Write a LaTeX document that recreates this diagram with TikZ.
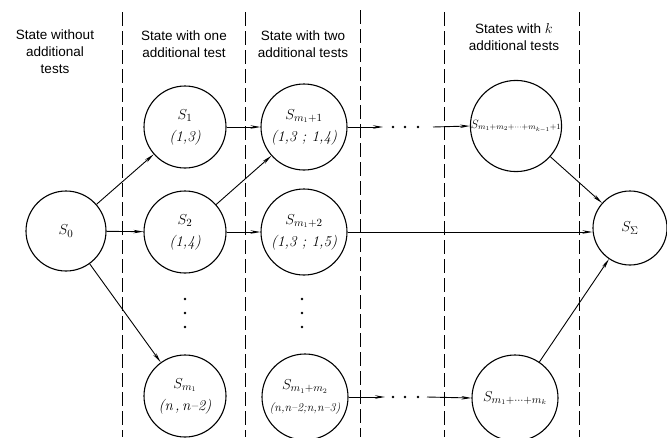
\documentclass[tikz,border=0pt]{standalone}
\usepackage{fontspec}
\newfontfamily\hdr{Liberation Sans}
\usetikzlibrary{arrows.meta}
\begin{document}
\begin{tikzpicture}[x=1pt,y=-1pt,
 st/.style={circle,draw,line width=1.1pt,inner sep=0pt,align=center,font=\fontsize{15}{22}\selectfont},
 arr/.style={line width=0.9pt,-{Stealth[length=10pt,width=3.5pt]}},
 sep/.style={line width=1pt,dash pattern=on 14pt off 5pt},
 hd/.style={align=center,font=\hdr\fontsize{13.5}{17}\selectfont},
 dotm/.style={circle,fill,inner sep=0pt,minimum size=2.8pt}]
\useasboundingbox (0,0) rectangle (667,437);
% column separators
\draw[sep] (122,12) -- (122,437);
\draw[sep] (245,12) -- (245,437);
\draw[sep] (360,10) -- (360,437);
\draw[sep] (444,12) -- (444,437);
\draw[sep] (579,12) -- (579,437);
% headers
\node[hd] (h0) at (55,52) {State without\\additional\\tests};
\node[hd] (h1) at (184,44) {State with one\\additional test};
\node[hd] (h2) at (303,44) {State with two\\additional tests};
\node[hd] (h3) at (514,37) {States with $k$\\additional tests};
% states
\node[st,minimum size=80pt] (a0) at (66,231) {$S_0$};
\node[st,minimum size=82pt] (b1) at (185,127) {$S_1$\\\textit{(1,3)}};
\node[st,minimum size=82pt] (b2) at (185,232) {$S_2$\\\textit{(1,4)}};
\node[st,minimum size=82pt] (b3) at (185,396) {$S_{m_1}$\\\textit{(n\,,\,n--2)}};
\node[st,minimum size=86pt] (c1) at (304,127) {$S_{m_1+1}$\\\textit{(1,3 ; 1,4)}};
\node[st,minimum size=86pt] (c2) at (304,232) {$S_{m_1+2}$\\\textit{(1,3 ; 1,5)}};
\node[st,minimum size=86pt] (c3) at (305,397) {$S_{m_1+m_2}$\\{\fontsize{12}{14}\selectfont\textit{(n,n--2;n,n--3)}}};
\node[st,minimum size=86pt,font=\fontsize{12}{15}\selectfont] (d1) at (516,126) {$S_{m_1+m_2+\cdots+m_{k-1}+1}$};
\node[st,minimum size=86pt] (d3) at (515,398) {$S_{m_1+\cdots+m_k}$};
\node[st,minimum size=74pt] (e) at (630,228) {$S_\Sigma$};
% dots
\foreach \yy in {299,313,327} {
  \node[dotm] at (185,\yy) {};
  \node[dotm] at (302,\yy) {};
}
\foreach \xx in {393,405,418} {
  \node[dotm] at (\xx,127) {};
  \node[dotm] at (\xx,397) {};
}
\coordinate (p1) at (383,127);
\coordinate (q1) at (433,127);
\coordinate (p3) at (385,397);
\coordinate (q3) at (427,397);
% connectors
\draw[arr] (a0) -- (b1);
\draw[arr] (a0) -- (b2);
\draw[arr] (a0) -- (b3);
\draw[arr] (b1) -- (c1);
\draw[arr] (b2) -- (c1);
\draw[arr] (b2) -- (c2);
\draw[arr] (c1.east) -- (p1);
\draw[arr] (q1) -- (d1.west);
\draw[arr] (c3.east) -- (p3);
\draw[arr] (q3) -- (d3.west);
\draw[arr] (c2.east) -- (c2.east -| e.west);
\draw[arr] (d1) -- (e);
\draw[arr] (d3) -- (e);
\end{tikzpicture}
\end{document}
